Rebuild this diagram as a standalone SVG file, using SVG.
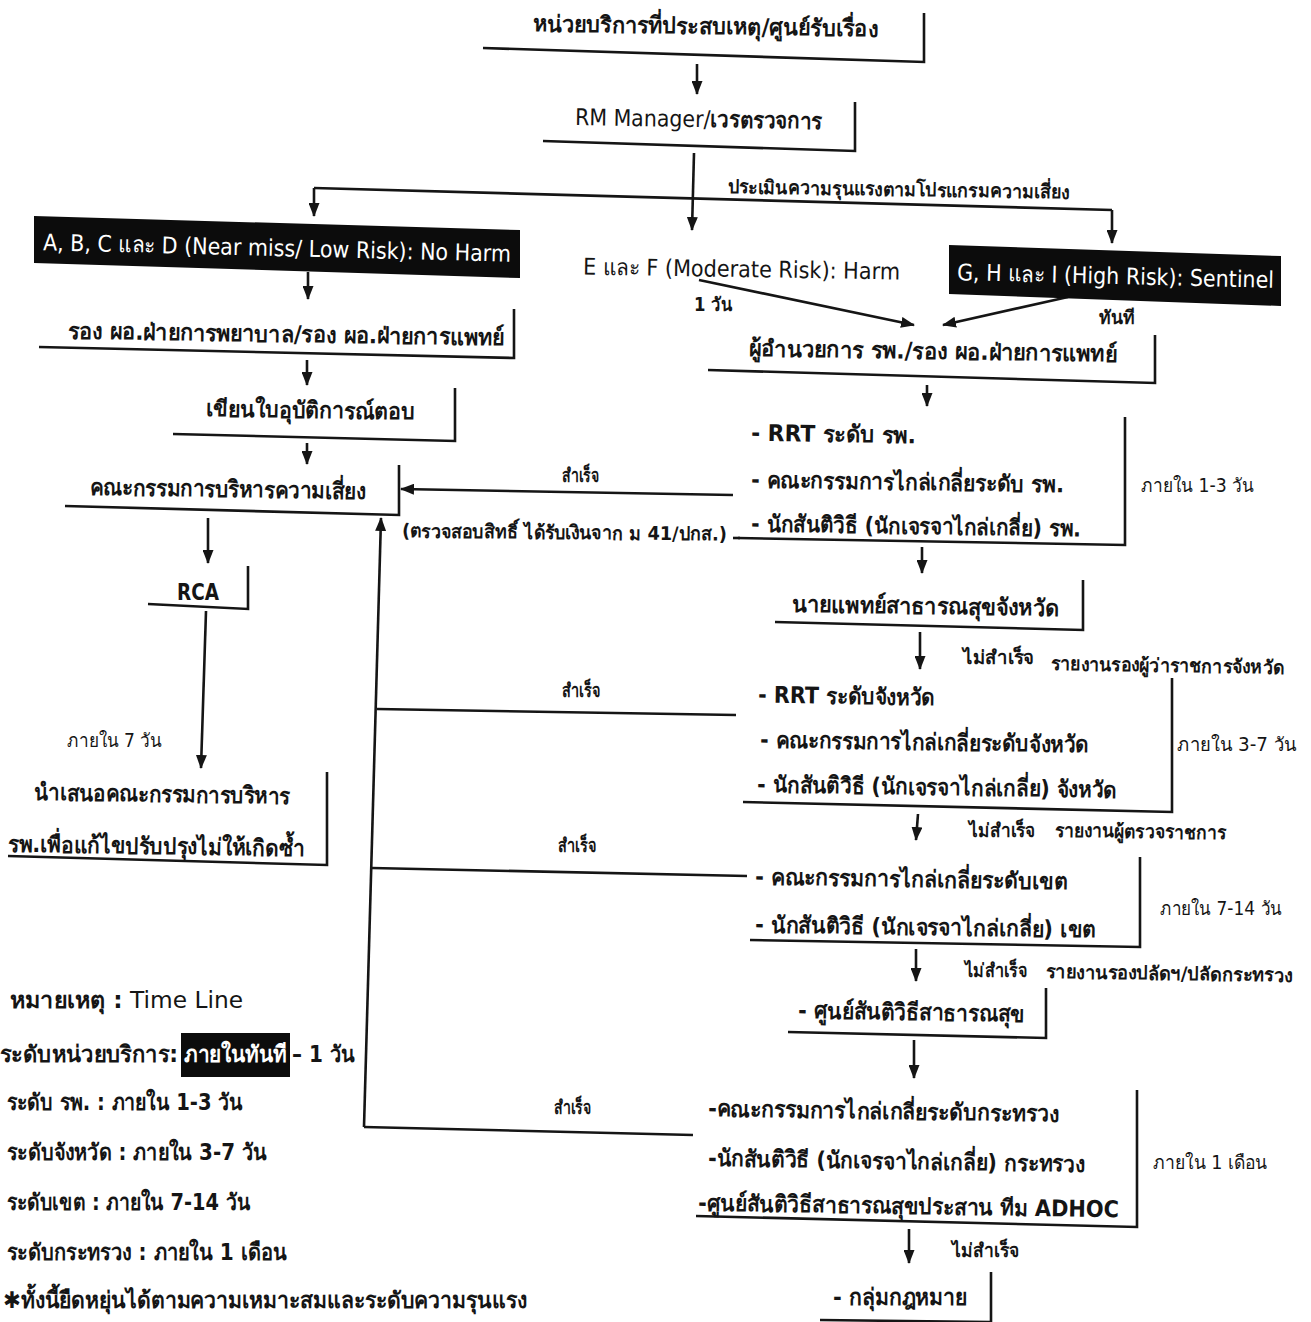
<svg xmlns="http://www.w3.org/2000/svg" width="1311" height="1322" viewBox="0 0 1311 1322">
<style>
.ln{stroke:#151515;stroke-width:2.6;fill:none}
.ar{stroke:#151515;stroke-width:2.6;fill:none;marker-end:url(#ah)}
.t{font-family:"DejaVu Sans","Noto Sans",sans-serif;font-weight:bold;font-size:23px;fill:#151515}
.s{font-size:19px}
.n{font-weight:normal}
.w{fill:#fff}
.bk{fill:#0c0c0c}
</style>
<defs>
<marker id="ah" viewBox="0 0 14 11" refX="13" refY="5.5" markerWidth="14" markerHeight="11" markerUnits="userSpaceOnUse" orient="auto">
<path d="M0,0 L14,5.5 L0,11 z" fill="#151515"/>
</marker>
</defs>
<rect width="1311" height="1322" fill="#fff"/>

<g id="connectors">
<line class="ar" x1="697" y1="64" x2="697" y2="94"/>
<line class="ar" x1="694" y1="153" x2="692" y2="230"/>
<line class="ln" x1="314" y1="188" x2="1112" y2="210"/>
<line class="ar" x1="314" y1="188" x2="314" y2="216"/>
<line class="ar" x1="1112" y1="210" x2="1112" y2="243"/>
<line class="ar" x1="699" y1="280" x2="914" y2="325"/>
<line class="ar" x1="1068" y1="297" x2="943" y2="325"/>
<line class="ar" x1="308" y1="272" x2="308" y2="299"/>
<line class="ar" x1="307" y1="360" x2="307" y2="385"/>
<line class="ar" x1="307" y1="443" x2="307" y2="464"/>
<line class="ar" x1="208" y1="518" x2="208" y2="563"/>
<line class="ar" x1="206" y1="611" x2="201" y2="768"/>
<line class="ar" x1="927" y1="385" x2="927" y2="406"/>
<line class="ar" x1="922" y1="547" x2="922" y2="573"/>
<line class="ar" x1="920" y1="632" x2="920" y2="669"/>
<line class="ar" x1="918" y1="814" x2="916" y2="840"/>
<line class="ar" x1="916" y1="949" x2="916" y2="981"/>
<line class="ar" x1="914" y1="1040" x2="914" y2="1078"/>
<line class="ar" x1="909" y1="1229" x2="909" y2="1263"/>
<line class="ar" x1="733" y1="495" x2="401" y2="489"/>
<line class="ln" x1="733" y1="538" x2="740" y2="538"/>
<line class="ar" x1="364" y1="1127" x2="381" y2="518"/>
<line class="ln" x1="377" y1="709" x2="736" y2="715"/>
<line class="ln" x1="372" y1="868" x2="747" y2="876"/>
<line class="ln" x1="364" y1="1127" x2="693" y2="1135"/>
<text class="t s" x="728" y="196" textLength="342" lengthAdjust="spacingAndGlyphs" transform="rotate(0.9 899 189)">ประเมินความรุนแรงตามโปรแกรมความเสี่ยง</text>
<text class="t s" x="694" y="311" textLength="38" lengthAdjust="spacingAndGlyphs">1 วัน</text>
<text class="t s" x="1099" y="324" textLength="36" lengthAdjust="spacingAndGlyphs">ทันที</text>
<text class="t s n" x="67" y="747" textLength="95" lengthAdjust="spacingAndGlyphs">ภายใน 7 วัน</text>
<text class="t s" x="562" y="482" textLength="37" lengthAdjust="spacingAndGlyphs">สำเร็จ</text>
<text class="t s" x="402" y="539" textLength="325" lengthAdjust="spacingAndGlyphs" transform="rotate(0.6 564 532)">(ตรวจสอบสิทธิ์ ได้รับเงินจาก ม 41/ปกส.)</text>
<text class="t s" x="562" y="697" textLength="38" lengthAdjust="spacingAndGlyphs">สำเร็จ</text>
<text class="t s" x="558" y="852" textLength="38" lengthAdjust="spacingAndGlyphs">สำเร็จ</text>
<text class="t s" x="554" y="1114" textLength="37" lengthAdjust="spacingAndGlyphs">สำเร็จ</text>
<text class="t s n" x="1141" y="492" textLength="113" lengthAdjust="spacingAndGlyphs">ภายใน 1-3 วัน</text>
<text class="t s" x="963" y="664" textLength="71" lengthAdjust="spacingAndGlyphs">ไม่สำเร็จ</text>
<text class="t s" x="1051" y="672" textLength="233" lengthAdjust="spacingAndGlyphs" transform="rotate(0.9 1167 665)">รายงานรองผู้ว่าราชการจังหวัด</text>
<text class="t s n" x="1177" y="751" textLength="120" lengthAdjust="spacingAndGlyphs">ภายใน 3-7 วัน</text>
<text class="t s" x="969" y="837" textLength="66" lengthAdjust="spacingAndGlyphs">ไม่สำเร็จ</text>
<text class="t s" x="1055" y="838" textLength="171" lengthAdjust="spacingAndGlyphs" transform="rotate(0.9 1140 831)">รายงานผู้ตรวจราชการ</text>
<text class="t s n" x="1160" y="915" textLength="122" lengthAdjust="spacingAndGlyphs">ภายใน 7-14 วัน</text>
<text class="t s" x="965" y="977" textLength="62" lengthAdjust="spacingAndGlyphs">ไม่สำเร็จ</text>
<text class="t s" x="1046" y="980" textLength="247" lengthAdjust="spacingAndGlyphs" transform="rotate(0.9 1169 973)">รายงานรองปลัดฯ/ปลัดกระทรวง</text>
<text class="t s n" x="1153" y="1169" textLength="114" lengthAdjust="spacingAndGlyphs">ภายใน 1 เดือน</text>
<text class="t s" x="952" y="1257" textLength="67" lengthAdjust="spacingAndGlyphs">ไม่สำเร็จ</text>
</g>

<g id="n1">
<text class="t" x="533" y="34" textLength="345" lengthAdjust="spacingAndGlyphs" transform="rotate(0.9 705 27)">หน่วยบริการที่ประสบเหตุ/ศูนย์รับเรื่อง</text>
<polyline class="ln" points="483,48 924,62 924,13"/>
</g>
<g id="n2">
<text class="t" x="575" y="127" textLength="247" lengthAdjust="spacingAndGlyphs" transform="rotate(0.9 698 120)"><tspan class="n">RM Manager/</tspan>เวรตรวจการ</text>
<polyline class="ln" points="543,141 855,151 855,102"/>
</g>
<g id="nABCD">
<polygon class="bk" points="34,216 520,230 520,278 34,263"/>
<text class="t n w" x="43" y="256" textLength="468" lengthAdjust="spacingAndGlyphs" transform="rotate(1.4 277 249)">A, B, C และ D (Near miss/ Low Risk): No Harm</text>
</g>
<g id="nEF">
<text class="t n" x="583" y="277" textLength="317" lengthAdjust="spacingAndGlyphs" transform="rotate(0.9 741 270)">E และ F (Moderate Risk): Harm</text>
</g>
<g id="nGHI">
<polygon class="bk" points="949,245 1281,256 1281,306 949,294"/>
<text class="t n w" x="957" y="284" textLength="317" lengthAdjust="spacingAndGlyphs" transform="rotate(1.4 1115 277)">G, H และ I (High Risk): Sentinel</text>
</g>
<g id="n3">
<text class="t" x="68" y="342" textLength="436" lengthAdjust="spacingAndGlyphs" transform="rotate(0.9 286 335)">รอง ผอ.ฝ่ายการพยาบาล/รอง ผอ.ฝ่ายการแพทย์</text>
<polyline class="ln" points="39,347 514,358 514,309"/>
</g>
<g id="n4">
<text class="t" x="206" y="418" textLength="209" lengthAdjust="spacingAndGlyphs" transform="rotate(0.9 310 411)">เขียนใบอุบัติการณ์ตอบ</text>
<polyline class="ln" points="173,434 455,441 455,388"/>
</g>
<g id="n5">
<text class="t" x="90" y="497" textLength="276" lengthAdjust="spacingAndGlyphs" transform="rotate(0.9 228 490)">คณะกรรมการบริหารความเสี่ยง</text>
<polyline class="ln" points="65,506 399,515 399,465"/>
</g>
<g id="n6">
<text class="t" x="177" y="600" textLength="42" lengthAdjust="spacingAndGlyphs">RCA</text>
<polyline class="ln" points="148,604 248,609 248,566"/>
</g>
<g id="n7">
<text class="t" x="34" y="802" textLength="256" lengthAdjust="spacingAndGlyphs" transform="rotate(0.9 162 795)">นำเสนอคณะกรรมการบริหาร</text>
<text class="t" x="8" y="854" textLength="297" lengthAdjust="spacingAndGlyphs" transform="rotate(0.9 156 847)">รพ.เพื่อแก้ไขปรับปรุงไม่ให้เกิดซ้ำ</text>
<polyline class="ln" points="8,856 327,865 327,772"/>
</g>
<g id="n8">
<text class="t" x="749" y="359" textLength="368" lengthAdjust="spacingAndGlyphs" transform="rotate(0.9 933 352)">ผู้อำนวยการ รพ./รอง ผอ.ฝ่ายการแพทย์</text>
<polyline class="ln" points="708,370 1155,383 1155,335"/>
</g>
<g id="n9">
<text class="t" x="751" y="442" textLength="165" lengthAdjust="spacingAndGlyphs" transform="rotate(0.9 833 435)">- RRT ระดับ รพ.</text>
<text class="t" x="751" y="490" textLength="313" lengthAdjust="spacingAndGlyphs" transform="rotate(0.9 907 483)">- คณะกรรมการไกล่เกลี่ยระดับ รพ.</text>
<text class="t" x="751" y="534" textLength="330" lengthAdjust="spacingAndGlyphs" transform="rotate(0.9 916 527)">- นักสันติวิธี (นักเจรจาไกล่เกลี่ย) รพ.</text>
<polyline class="ln" points="738,538 1125,545 1125,417"/>
</g>
<g id="n10">
<text class="t" x="792" y="614" textLength="267" lengthAdjust="spacingAndGlyphs" transform="rotate(0.9 925 607)">นายแพทย์สาธารณสุขจังหวัด</text>
<polyline class="ln" points="775,622 1083,630 1083,580"/>
</g>
<g id="n11">
<text class="t" x="758" y="704" textLength="177" lengthAdjust="spacingAndGlyphs" transform="rotate(0.9 846 697)">- RRT ระดับจังหวัด</text>
<text class="t" x="760" y="750" textLength="329" lengthAdjust="spacingAndGlyphs" transform="rotate(0.9 924 743)">- คณะกรรมการไกล่เกลี่ยระดับจังหวัด</text>
<text class="t" x="757" y="795" textLength="360" lengthAdjust="spacingAndGlyphs" transform="rotate(0.9 937 788)">- นักสันติวิธี (นักเจรจาไกล่เกลี่ย) จังหวัด</text>
<polyline class="ln" points="743,802 1172,812 1172,678"/>
</g>
<g id="n12">
<text class="t" x="755" y="887" textLength="313" lengthAdjust="spacingAndGlyphs" transform="rotate(0.9 911 880)">- คณะกรรมการไกล่เกลี่ยระดับเขต</text>
<text class="t" x="755" y="935" textLength="341" lengthAdjust="spacingAndGlyphs" transform="rotate(0.9 925 928)">- นักสันติวิธี (นักเจรจาไกล่เกลี่ย) เขต</text>
<polyline class="ln" points="750,940 1140,947 1140,857"/>
</g>
<g id="n13">
<text class="t" x="798" y="1020" textLength="227" lengthAdjust="spacingAndGlyphs" transform="rotate(0.9 911 1013)">- ศูนย์สันติวิธีสาธารณสุข</text>
<polyline class="ln" points="788,1032 1046,1038 1046,988"/>
</g>
<g id="n14">
<text class="t" x="708" y="1119" textLength="351" lengthAdjust="spacingAndGlyphs" transform="rotate(0.9 883 1112)">-คณะกรรมการไกล่เกลี่ยระดับกระทรวง</text>
<text class="t" x="708" y="1169" textLength="377" lengthAdjust="spacingAndGlyphs" transform="rotate(0.9 896 1162)">-นักสันติวิธี (นักเจรจาไกล่เกลี่ย) กระทรวง</text>
<text class="t" x="698" y="1214" textLength="421" lengthAdjust="spacingAndGlyphs" transform="rotate(0.9 908 1207)">-ศูนย์สันติวิธีสาธารณสุขประสาน ทีม ADHOC</text>
<polyline class="ln" points="696,1216 1137,1227 1137,1090"/>
</g>
<g id="n15">
<text class="t" x="833" y="1305" textLength="134" lengthAdjust="spacingAndGlyphs">- กลุ่มกฎหมาย</text>
<polyline class="ln" points="820,1320 991,1322 991,1272"/>
</g>

<g id="legend">
<text class="t" x="10" y="1008" textLength="233" lengthAdjust="spacingAndGlyphs">หมายเหตุ :<tspan class="n"> Time Line</tspan></text>
<text class="t" x="0" y="1062" textLength="178" lengthAdjust="spacingAndGlyphs">ระดับหน่วยบริการ:</text>
<rect class="bk" x="181" y="1033" width="109" height="44"/>
<text class="t w" x="184" y="1062" textLength="103" lengthAdjust="spacingAndGlyphs">ภายในทันที</text>
<text class="t" x="292" y="1062" textLength="63" lengthAdjust="spacingAndGlyphs">– 1 วัน</text>
<text class="t" x="7" y="1110" textLength="236" lengthAdjust="spacingAndGlyphs">ระดับ รพ. : ภายใน 1-3 วัน</text>
<text class="t" x="7" y="1160" textLength="260" lengthAdjust="spacingAndGlyphs">ระดับจังหวัด : ภายใน 3-7 วัน</text>
<text class="t" x="7" y="1210" textLength="243" lengthAdjust="spacingAndGlyphs">ระดับเขต : ภายใน 7-14 วัน</text>
<text class="t" x="7" y="1260" textLength="280" lengthAdjust="spacingAndGlyphs">ระดับกระทรวง : ภายใน 1 เดือน</text>
<text class="t" x="3" y="1308" textLength="524" lengthAdjust="spacingAndGlyphs">✱ทั้งนี้ยืดหยุ่นได้ตามความเหมาะสมและระดับความรุนแรง</text>
</g>
</svg>
